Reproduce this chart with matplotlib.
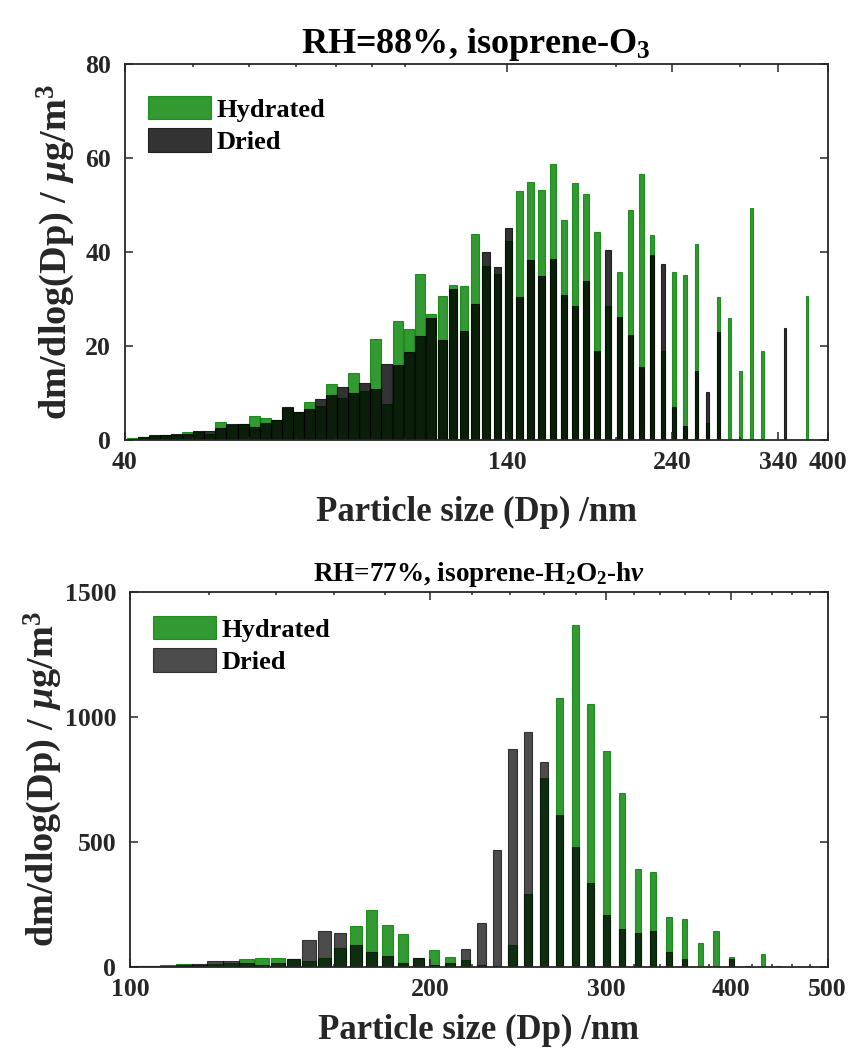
import numpy as np
import matplotlib
matplotlib.use("Agg")
import matplotlib.pyplot as plt
from matplotlib.ticker import NullFormatter

plt.rcParams["font.family"] = ["Liberation Serif", "DejaVu Serif"]
plt.rcParams["font.weight"] = "bold"
plt.rcParams["axes.labelweight"] = "bold"
plt.rcParams["mathtext.fontset"] = "custom"
plt.rcParams["mathtext.rm"] = "Liberation Serif:bold"
plt.rcParams["mathtext.it"] = "Liberation Serif:italic:bold"
plt.rcParams["mathtext.bf"] = "Liberation Serif:bold"

# ---- RH=88%, isoprene-O3 (bin midpoints, nm) ----
dp_o3 = [41.00, 42.51, 44.08, 45.71, 47.40, 49.15, 50.96, 52.84, 54.79, 56.81,
         58.91, 61.08, 63.34, 65.68, 68.10, 70.61, 73.22, 75.92, 78.72, 81.63,
         84.64, 87.76, 91.00, 94.36, 97.84, 101.45, 105.19, 109.07, 113.09, 117.26,
         121.59, 126.08, 130.73, 135.55, 140.55, 145.74, 151.12, 156.70, 162.48, 168.48,
         174.70, 181.15, 187.83, 194.76, 201.95, 209.40, 217.13, 225.14, 233.45, 242.06,
         250.99, 260.25, 269.85, 279.81, 290.14, 300.85, 311.95, 323.46, 335.40, 347.78,
         360.61, 373.92]
hydrated_o3 = [0.4, 0.6, 0.9, 1.0, 1.1, 1.6, 1.7, 1.2, 3.9, 3.2,
               3.3, 5.1, 4.6, 4.2, 6.8, 5.9, 8.0, 7.3, 11.9, 9.0,
               14.3, 10.5, 21.4, 7.7, 25.3, 23.7, 35.3, 26.8, 30.6, 33.0,
               32.8, 43.9, 37.0, 35.2, 42.3, 53.0, 54.9, 53.2, 58.7, 46.7,
               54.7, 52.3, 44.3, 28.4, 35.7, 48.9, 56.6, 43.6, 18.9, 35.7,
               35.1, 41.7, 3.5, 30.4, 26.0, 14.7, 49.3, 18.9, 0, 0,
               0, 30.6]
dried_o3 = [0.3, 0.7, 1.0, 1.1, 1.3, 1.2, 1.85, 1.8, 2.5, 3.3,
            3.4, 2.7, 3.5, 4.3, 7.1, 6.0, 6.6, 8.8, 9.6, 11.3,
            10.0, 12.2, 10.9, 16.2, 16.0, 18.8, 22.1, 26.0, 21.3, 32.1,
            23.2, 28.9, 39.9, 36.8, 45.0, 30.4, 38.2, 34.9, 38.4, 30.9,
            28.5, 33.9, 18.9, 40.4, 26.2, 22.3, 15.5, 39.4, 37.4, 7.1,
            3.0, 14.7, 10.3, 23.0, 0, 0, 0, 0, 0, 23.9,
            0, 0]

# ---- RH=77%, isoprene-H2O2-hv ----
dp_h2o2 = [101.60, 105.34, 109.21, 113.23, 117.39, 121.71, 126.18, 130.82, 135.63, 140.62,
           145.79, 151.15, 156.71, 162.47, 168.44, 174.63, 181.05, 187.71, 194.61, 201.77,
           209.19, 216.88, 224.85, 233.12, 241.69, 250.58, 259.79, 269.34, 279.24, 289.51,
           300.15, 311.19, 322.63, 334.49, 346.79, 359.54, 372.76, 386.47, 400.68, 415.41,
           430.68, 446.52, 462.94, 479.96]
hydrated_h2o2 = [2, 3, 8, 9, 6, 11, 15, 32, 35, 35,
                 30, 21, 35, 76, 162, 227, 168, 130, 33, 68,
                 37, 26, 7, 3, 86, 290, 755, 1074, 1366, 1051,
                 862, 695, 392, 378, 200, 190, 93, 142, 40, 2,
                 52, 2, 0, 2]
dried_h2o2 = [3, 4, 3, 5, 12, 23, 23, 15, 8, 16,
              31, 106, 141, 134, 88, 59, 44, 16, 35, 8,
              14, 72, 173, 465, 871, 940, 818, 605, 479, 335,
              206, 150, 133, 144, 57, 29, 0, 0, 31, 0,
              0, 0, 0, 0]

GREEN = (0.0, 0.5, 0.0)
DARK = "#262626"


def bar_widths(dp, w):
    # constant width in nm, but never wider than the bin itself
    dp = np.asarray(dp)
    step = dp[1] / dp[0]
    full = dp * (np.sqrt(step) - 1 / np.sqrt(step))
    return np.minimum(full, w)


def panel(ax, dp, hyd, dri, w, dried_alpha, xlim, major, minor, ylim, yticks,
          title, title_size, leg_y, xlabel_y, ylabel_x):
    widths = bar_widths(dp, w)
    ax.bar(dp, hyd, width=widths, color=GREEN, edgecolor=GREEN, alpha=0.8,
           linewidth=0.8, label="Hydrated")
    ax.bar(dp, dri, width=widths, color="black", edgecolor="black",
           alpha=dried_alpha, linewidth=0.8, label="Dried")
    ax.set_xscale("log")
    ax.set_xlim(*xlim)
    ax.set_ylim(*ylim)
    ax.set_xticks(major)
    ax.set_xticklabels([str(v) for v in major])
    ax.set_xticks(minor, minor=True)
    ax.xaxis.set_minor_formatter(NullFormatter())
    ax.set_yticks(yticks)
    ax.tick_params(which="both", direction="in", top=True, right=True,
                   colors=DARK, width=1.1, labelsize=18.5)
    ax.tick_params(axis="x", which="major", length=5.5, pad=8)
    ax.tick_params(axis="x", which="minor", length=2.5)
    ax.tick_params(axis="y", which="major", length=5.5, pad=10)
    for sp in ax.spines.values():
        sp.set_linewidth(1.3)
        sp.set_color(DARK)
    ax.set_title(title, fontsize=title_size, fontweight="bold", pad=8)
    ax.set_xlabel("Particle size (Dp) /nm", fontsize=25, color=DARK)
    ax.set_ylabel(r"dm/dlog(Dp) / $\mu$g/m$^3$", fontsize=27.5, color=DARK)
    ax.xaxis.set_label_coords(0.5, xlabel_y)
    ax.yaxis.set_label_coords(ylabel_x, 0.5)
    ax.legend(loc="upper left", bbox_to_anchor=(0.033, leg_y), frameon=False,
              borderpad=0, borderaxespad=0, handlelength=2.4, handleheight=1.0,
              handletextpad=0.2, labelspacing=0.25,
              prop={"size": 19, "weight": "bold"})


fig = plt.figure(figsize=(8.53, 10.51), dpi=100)
ax1 = fig.add_axes([0.1465, 0.5814, 0.8238, 0.3578])
ax2 = fig.add_axes([0.1524, 0.0802, 0.8179, 0.3568])

panel(ax1, dp_o3, hydrated_o3, dried_o3, 3.3, 0.8, (40, 400),
      [40, 140, 240, 340, 400], [50, 60, 70, 80, 90, 100, 200, 300],
      (0, 80), [0, 20, 40, 60, 80],
      r"RH=88%, isoprene-O$_3$", 26, 0.915, -0.15, -0.068)

panel(ax2, dp_h2o2, hydrated_h2o2, dried_h2o2, 4.6, 0.7, (100, 500),
      [100, 200, 300, 400, 500],
      [120, 140, 160, 180, 220, 240, 260, 280, 320, 340, 360, 380, 420, 440, 460, 480],
      (0, 1500), [0, 500, 1000, 1500],
      r"RH=77%, isoprene-H$_2$O$_2$-h$\nu$", 19.5, 0.936, -0.125, -0.095)

fig.savefig("out.png", dpi=100)
